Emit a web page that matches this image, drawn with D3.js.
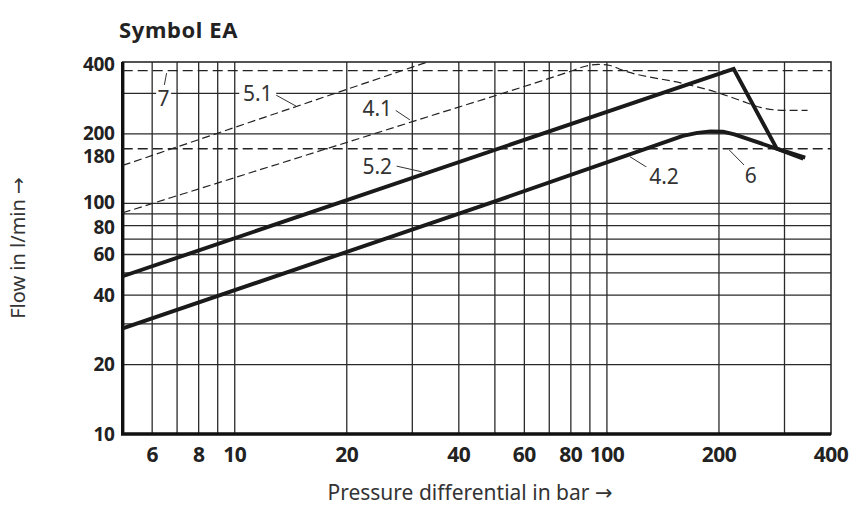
<!DOCTYPE html>
<html>
<head>
<meta charset="utf-8">
<script src="https://cdn.jsdelivr.net/npm/d3@7"></script>
<style>
	body { margin: 0; background: #fff; }
	text { font-family: "Noto Sans", sans-serif; fill: #222; }
</style>
</head>
<body>
<div id="chart"></div>
<script>
// values (x = pressure differential in bar, y = flow in l/min)
var xTicks = [6, 8, 10, 20, 40, 60, 80, 100, 200, 400];
var yTicks = [10, 20, 40, 60, 80, 100, 180, 200, 400];
var xGrid = [6, 7, 8, 9, 10, 20, 30, 40, 50, 60, 70, 80, 90, 100, 200, 300];
var yGrid = [20, 30, 40, 50, 60, 70, 80, 90, 100, 200, 300];

// thick curves
var curve52 = [[5, 48.3], [219, 383], [286, 172.5], [341, 158]];
var curve42 = [[5, 28.7], [50, 102], [160, 196], [175, 202], [190, 205], [205, 204.5], [220, 199], [286, 172.5], [337, 156]];
// thin dashed curves
var curve51 = [[5, 146], [40, 456]];
var curve41 = [[5, 91], [30, 226], [80, 374], [88, 394], [95, 400], [102, 396], [110, 378], [160, 331], [196, 304], [230, 278], [260, 260], [285, 254], [310, 253], [346, 253]];
// horizontal dashed limits
var limit7 = 376;
var limit6 = 172.5;

// curve labels: text position and leader line, in data units
var labels = [
	{text: "7",   x: 6.44,  y: 285,   x1: 6.56,  y1: 367,   x2: 6.47,  y2: 326},
	{text: "5.1", x: 11.53, y: 300,   x1: 12.75, y1: 298,   x2: 14.61, y2: 264},
	{text: "4.1", x: 24.15, y: 258,   x1: 26.95, y1: 254,   x2: 29.57, y2: 230},
	{text: "5.2", x: 24.15, y: 144,   x1: 27.23, y1: 145,   x2: 31.8,  y2: 137},
	{text: "4.2", x: 142.4, y: 130.5, x1: 129.2, y1: 142,   x2: 115.3, y2: 159.3},
	{text: "6",   x: 243.4, y: 132.7, x1: 233.5, y1: 146.7, x2: 213.2, y2: 170.3}
];

var width = 849, height = 507;
var margin = {top: 62, right: 18, bottom: 73, left: 122.7};

var x = d3.scaleLog().domain([5, 400]).range([margin.left, width - margin.right]);
var y = d3.scaleLog().domain([10, 410]).range([height - margin.bottom, margin.top]);

// small nudges so crowded y labels do not collide
var yNudge = {80: 1.5, 100: -1.5, 180: 12, 200: -1};

var svg = d3.select("#chart").append("svg")
	.attr("width", width)
	.attr("height", height);

svg.append("clipPath").attr("id", "plot")
	.append("rect")
	.attr("x", x(5)).attr("y", y(410))
	.attr("width", x(400) - x(5)).attr("height", y(10) - y(410));

// grid
var grid = svg.append("g").attr("stroke", "#2a2a2a").attr("stroke-width", 1.3);
grid.selectAll(".vg").data(xGrid).enter().append("line")
	.attr("x1", d => x(d)).attr("x2", d => x(d))
	.attr("y1", y(10)).attr("y2", y(410));
grid.selectAll(".hg").data(yGrid).enter().append("line")
	.attr("x1", x(5)).attr("x2", x(400))
	.attr("y1", d => y(d)).attr("y2", d => y(d));

// frame: thin top/right, heavy left/bottom
svg.append("rect")
	.attr("x", x(5)).attr("y", y(410))
	.attr("width", x(400) - x(5)).attr("height", y(10) - y(410))
	.attr("fill", "none").attr("stroke", "#2a2a2a").attr("stroke-width", 1.6);
svg.append("path")
	.attr("d", "M" + x(5) + "," + y(410) + "V" + y(10) + "H" + x(400))
	.attr("fill", "none").attr("stroke", "#111").attr("stroke-width", 3.4);

// horizontal dashed limits
svg.selectAll(".limit").data([limit7, limit6]).enter().append("line")
	.attr("x1", x(5)).attr("x2", x(400))
	.attr("y1", d => y(d)).attr("y2", d => y(d))
	.attr("stroke", "#222").attr("stroke-width", 1.4)
	.attr("stroke-dasharray", "10,5");

var line = d3.line().x(d => x(d[0])).y(d => y(d[1]));
var smooth = d3.line().x(d => x(d[0])).y(d => y(d[1])).curve(d3.curveMonotoneX);

var curves = svg.append("g").attr("clip-path", "url(#plot)").attr("fill", "none");
curves.append("path").attr("d", line(curve51))
	.attr("stroke", "#222").attr("stroke-width", 1.2).attr("stroke-dasharray", "8,4");
curves.append("path").attr("d", smooth(curve41))
	.attr("stroke", "#222").attr("stroke-width", 1.2).attr("stroke-dasharray", "8,4");
curves.append("path").attr("d", line(curve52))
	.attr("stroke", "#1a1a1a").attr("stroke-width", 3.9).attr("stroke-linejoin", "miter");
curves.append("path").attr("d", line(curve42))
	.attr("stroke", "#1a1a1a").attr("stroke-width", 3.9).attr("stroke-linejoin", "round");

// labels with leaders
var lab = svg.append("g");
lab.selectAll(".leader").data(labels).enter().append("line")
	.attr("x1", d => x(d.x1)).attr("y1", d => y(d.y1))
	.attr("x2", d => x(d.x2)).attr("y2", d => y(d.y2))
	.attr("stroke", "#333").attr("stroke-width", 1);
var lt = lab.selectAll(".lt").data(labels).enter().append("g")
	.attr("transform", d => "translate(" + x(d.x) + "," + y(d.y) + ")");
lt.append("rect")
	.attr("x", d => -d.text.length * 5.5 - 2).attr("y", -10)
	.attr("width", d => d.text.length * 11 + 4).attr("height", 20)
	.attr("fill", "#fff");
lt.append("text")
	.attr("text-anchor", "middle").attr("dy", "0.36em")
	.style("font-size", "21px").style("fill", "#333")
	.text(d => d.text);

// tick labels
svg.append("g").selectAll("text").data(xTicks).enter().append("text")
	.attr("x", d => x(d)).attr("y", y(10) + 28)
	.attr("text-anchor", "middle")
	.style("font-size", "21px").style("font-weight", "bold")
	.style("letter-spacing", "-0.5px")
	.text(d => d);
svg.append("g").selectAll("text").data(yTicks).enter().append("text")
	.attr("x", x(5) - 8).attr("y", d => y(d) + (yNudge[d] || 0))
	.attr("dy", "0.36em")
	.attr("text-anchor", "end")
	.style("font-size", "19px").style("font-weight", "bold")
	.style("letter-spacing", "-0.3px")
	.text(d => d);

// titles
svg.append("text")
	.attr("x", 119).attr("y", 38)
	.style("font-size", "22px").style("font-weight", "bold")
	.style("letter-spacing", "0.6px")
	.text("Symbol EA");
var yt = svg.append("text")
	.attr("transform", "translate(25," + ((y(10) + y(410)) / 2) + ") rotate(-90)")
	.attr("text-anchor", "middle")
	.style("font-size", "20px").style("fill", "#333");
yt.append("tspan").text("Flow in l/min ");
yt.append("tspan").style("font-family", "DejaVu Sans").text("\u2192");
var xt = svg.append("text")
	.attr("x", 470).attr("y", 500)
	.attr("text-anchor", "middle")
	.style("font-size", "21px").style("fill", "#333");
xt.append("tspan").text("Pressure differential in bar ");
xt.append("tspan").style("font-family", "DejaVu Sans").text("\u2192");
</script>
</body>
</html>
